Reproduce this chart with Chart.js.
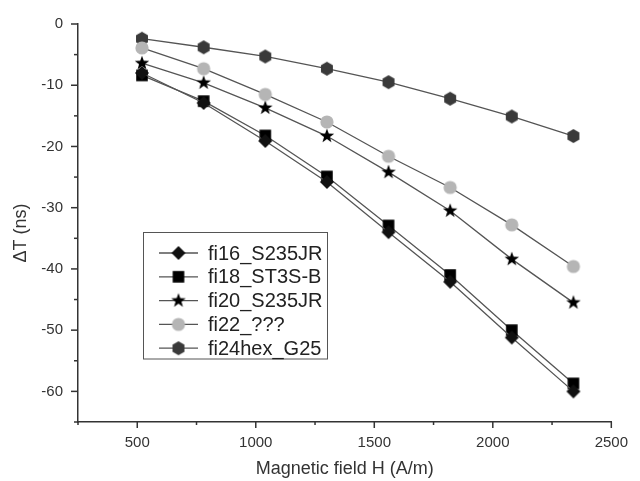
<!DOCTYPE html>
<html>
<head>
<meta charset="utf-8">
<script src="https://cdn.jsdelivr.net/npm/chart.js@4/dist/chart.umd.min.js"></script>
<style>
html,body{margin:0;padding:0;background:#fff;}
#wrap{width:640px;height:481px;position:relative;}
</style>
</head>
<body>
<div id="wrap"><canvas id="c" width="640" height="481"></canvas></div>
<script>
// ---- data ----
const fieldH = [520, 780, 1040, 1300, 1560, 1820, 2080, 2340];
const seriesNames = ['fi16_S235JR', 'fi18_ST3S-B', 'fi20_S235JR', 'fi22_???', 'fi24hex_G25'];
const fi16 = [-8.0, -12.9, -19.1, -25.8, -34.0, -42.1, -51.2, -60.0];
const fi18 = [-8.4, -12.6, -18.2, -24.9, -32.9, -41.0, -50.0, -58.7];
const fi20 = [-6.4, -9.6, -13.7, -18.3, -24.2, -30.5, -38.4, -45.5];
const fi22 = [-3.9, -7.3, -11.5, -16.0, -21.6, -26.7, -32.8, -39.6];
const fi24 = [-2.4, -3.8, -5.3, -7.3, -9.5, -12.2, -15.1, -18.3];
const xTickValues = [500, 1000, 1500, 2000, 2500];
const yTickValues = [0, -10, -20, -30, -40, -50, -60];
const xAxisTitle = 'Magnetic field H (A/m)';
const yAxisTitle = '\u0394T (ns)';

const FONT = '"Liberation Sans", Arial, Helvetica, sans-serif';

// ---- marker images ----
function mk(drawFn){
  const cv = document.createElement('canvas');
  cv.width = 18; cv.height = 18;
  const g = cv.getContext('2d');
  g.translate(9, 9);
  drawFn(g);
  return cv;
}
function poly(g, pts, fill){
  g.beginPath();
  pts.forEach((p,i)=> i ? g.lineTo(p[0],p[1]) : g.moveTo(p[0],p[1]));
  g.closePath(); g.fillStyle = fill; g.fill();
}
const mDiamond = mk(g=>poly(g, [[0,-7],[7,0],[0,7],[-7,0]], '#111'));
const mSquare = mk(g=>{g.fillStyle='#000'; g.fillRect(-5.8,-5.8,11.6,11.6);});
const mStar = mk(g=>{
  const pts=[]; for(let i=0;i<10;i++){const r=i%2?3.1:7.6; const a=-Math.PI/2+i*Math.PI/5; pts.push([r*Math.cos(a), r*Math.sin(a)]);}
  poly(g, pts, '#000');
});
const mCircle = mk(g=>{g.beginPath(); g.arc(0,0,6.6,0,Math.PI*2); g.fillStyle='#b5b5b5'; g.fill();});
const mHex = mk(g=>{
  const pts=[]; for(let i=0;i<6;i++){const a=-Math.PI/2+i*Math.PI/3; pts.push([6.9*Math.cos(a), 6.9*Math.sin(a)]);}
  poly(g, pts, '#3a3a3a');
});
const markers = [mDiamond, mSquare, mStar, mCircle, mHex];
const seriesVals = [fi16, fi18, fi20, fi22, fi24];
const lineColor = '#555';

const datasets = seriesNames.map((name, k) => ({
  label: name,
  data: fieldH.map((x, i) => ({x: x, y: seriesVals[k][i]})),
  borderColor: lineColor,
  borderWidth: 1.3,
  pointStyle: markers[k],
  pointRadius: 7,
  pointHoverRadius: 7,
  tension: 0,
  fill: false
}));

// ---- custom drawing plugin: minor/major tick marks, titles, legend ----
const decor = {
  id: 'decor',
  afterDraw(chart){
    const ctx = chart.ctx;
    const xs = chart.scales.x, ys = chart.scales.y;
    const area = chart.chartArea;
    ctx.save();
    ctx.strokeStyle = '#333';
    ctx.lineWidth = 1.5;
    for (let v = -65; v <= 0; v += 5) {
      const py = ys.getPixelForValue(v);
      const len = (v % 10 === 0) ? 7 : 4;
      ctx.beginPath(); ctx.moveTo(area.left - len, py); ctx.lineTo(area.left, py); ctx.stroke();
    }
    for (let v = 250; v <= 2500; v += 250) {
      const px = xs.getPixelForValue(v);
      const len = (v % 500 === 0) ? 6 : 3;
      ctx.beginPath(); ctx.moveTo(px, area.bottom); ctx.lineTo(px, area.bottom + len); ctx.stroke();
    }
    ctx.fillStyle = '#333';
    ctx.font = '18px ' + FONT;
    ctx.textAlign = 'center'; ctx.textBaseline = 'middle';
    ctx.fillText(xAxisTitle, (area.left + area.right) / 2, 469);
    ctx.save();
    ctx.translate(21, 233); ctx.rotate(-Math.PI / 2);
    ctx.fillText(yAxisTitle, 0, 0);
    ctx.restore();
    const bx = 143.5, by = 232.5, bw = 184, bh = 126.5;
    ctx.fillStyle = '#fff';
    ctx.fillRect(bx, by, bw, bh);
    ctx.strokeStyle = '#555'; ctx.lineWidth = 1;
    ctx.strokeRect(bx, by, bw, bh);
    ctx.font = '20px ' + FONT;
    ctx.textAlign = 'left'; ctx.textBaseline = 'middle';
    chart.data.datasets.forEach((ds, i) => {
      const y = 253 + i * 23.8;
      ctx.strokeStyle = lineColor; ctx.lineWidth = 1.3;
      ctx.beginPath(); ctx.moveTo(159, y); ctx.lineTo(198, y); ctx.stroke();
      const img = ds.pointStyle;
      ctx.drawImage(img, 178.5 - img.width / 2, y - img.height / 2);
      ctx.fillStyle = '#222';
      ctx.fillText(ds.label, 208, y + 1);
    });
    ctx.restore();
  }
};

new Chart(document.getElementById('c'), {
  type: 'line',
  data: { datasets: datasets },
  options: {
    responsive: false,
    animation: false,
    events: [],
    layout: { padding: { top: 18, right: 19, left: 0, bottom: 0 } },
    plugins: { legend: { display: false }, tooltip: { enabled: false }, title: { display: false } },
    scales: {
      x: {
        type: 'linear',
        min: 250, max: 2500,
        afterBuildTicks: s => { s.ticks = xTickValues.map(v => ({value: v})); },
        afterFit: s => { s.height = 59; },
        grid: { drawOnChartArea: false, drawTicks: false },
        border: { display: true, color: '#333', width: 1.5 },
        ticks: { color: '#333', font: { family: FONT, size: 15 }, padding: 12, maxRotation: 0, autoSkip: false,
                 callback: v => String(v) }
      },
      y: {
        type: 'linear',
        min: -65, max: 0,
        afterBuildTicks: s => { s.ticks = yTickValues.map(v => ({value: v})); },
        afterFit: s => { s.width = 78; },
        grid: { drawOnChartArea: false, drawTicks: false },
        border: { display: true, color: '#333', width: 1.5 },
        ticks: { color: '#333', font: { family: FONT, size: 15 }, padding: 15, autoSkip: false,
                 callback: v => String(v) }
      }
    }
  },
  plugins: [decor]
});
</script>
</body>
</html>
